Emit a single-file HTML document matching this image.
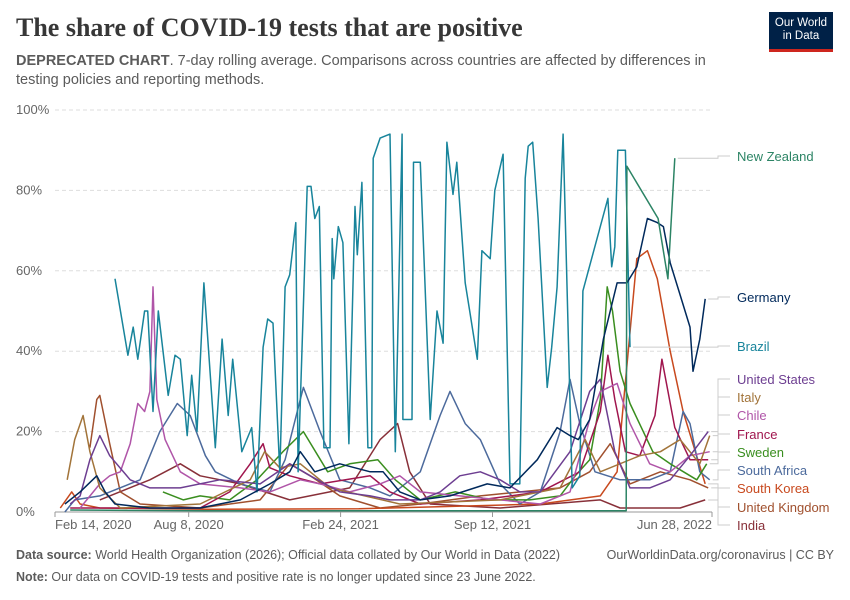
<!DOCTYPE html>
<html><head><meta charset="utf-8">
<style>
body{margin:0;background:#fff;font-family:"Liberation Sans",sans-serif;}
#wrap{position:relative;width:850px;height:600px;overflow:hidden;}
.title{position:absolute;left:16px;top:13px;font-family:"Liberation Serif",serif;font-weight:bold;font-size:26px;color:#373737;}
.sub{position:absolute;left:16px;top:52px;width:720px;font-size:14.5px;line-height:19px;color:#5b5b5b;}
.logo{position:absolute;left:769px;top:12px;width:64px;height:40px;background:#002147;border-bottom:3px solid #ce261e;color:#fff;font-size:11.5px;line-height:13px;text-align:center;padding-top:5px;box-sizing:border-box;}
.foot{position:absolute;left:16px;font-size:12.5px;color:#5b5b5b;}
</style></head><body>
<div id="wrap">
<div class="title">The share of COVID-19 tests that are positive</div>
<div class="sub"><b>DEPRECATED CHART</b>. 7-day rolling average. Comparisons across countries are affected by differences in testing policies and reporting methods.</div>
<div class="logo">Our World<br>in Data</div>
<svg id="chart" width="850" height="600" style="position:absolute;left:0;top:0"></svg>
<div class="foot" style="top:548px"><b>Data source:</b> World Health Organization (2026); Official data collated by Our World in Data (2022)</div>
<div class="foot" style="top:548px;left:auto;right:16px">OurWorldinData.org/coronavirus | CC BY</div>
<div class="foot" style="top:570px"><b>Note:</b> Our data on COVID-19 tests and positive rate is no longer updated since 23 June 2022.</div>
</div>
<script>
const yTicks=[0,20,40,60,80,100];
const xTickDays=[0,176,376,576,865];
const xTickLabels=["Feb 14, 2020","Aug 8, 2020","Feb 24, 2021","Sep 12, 2021","Jun 28, 2022"];
const seriesNames=["New Zealand","Germany","Brazil","United States","Italy","Chile","France","Sweden","South Africa","South Korea","United Kingdom","India"];
const seriesColors=["#2c8465","#00295b","#18849b","#6d3e91","#a2743a","#b055a8","#a0164e","#3a8e1f","#4c6a9c","#c8491e","#a0502e","#883039"];
const labelY=[156,297,346,379,397,415,434,452,470,488,507,525];
const nzDays=[20,200,400,600,752,753,794,807,816];
const nzVals=[0.5,0.3,0.3,0.3,0.3,86,73,58,88];
const deDays=[13,33,55,66,79,125,191,244,283,309,323,342,375,415,432,454,481,520,569,599,635,661,678,689,704,722,740,753,766,780,793,801,810,823,836,840,849,856];
const deVals=[2,5,9,5,2,1,1,3,7,10,15,10,12,10,10,5,3,4,7,6,13,21,19,18,23,43,57,57,61,73,72,71,62,54,46,35,43,53];
const brDays=[79,96,103,109,118,122,129,136,149,158,165,174,180,187,196,211,220,228,234,246,259,266,274,280,287,296,303,309,317,320,332,337,342,348,354,362,365,367,373,379,387,395,398,404,412,417,419,428,441,448,457,458,470,472,481,494,503,511,516,524,529,540,546,556,562,573,579,590,599,612,619,623,629,636,648,654,661,669,681,691,695,728,733,737,741,751,757];
const brVals=[58,39,46,38,50,50,25,50,29,39,38,19,34,20,57,16,43,24,38,15,21,5,41,48,47,10,56,59,72,10,81,81,73,76,16,16,68,58,71,67,17,76,64,82,16,16,88,93,94,15,94,23,23,87,87,23,50,42,92,79,87,57,50,38,65,63,80,89,7,7,83,91,92,73,31,41,56,94,6,9,55,78,61,66,90,90,41];
const usDays=[20,33,46,59,72,99,125,165,217,270,309,336,375,415,441,481,507,533,560,586,612,639,678,704,718,737,757,783,810,836,860];
const usVals=[2,4,13,19,14,8,6,6,8,7,12,9,5,4,3,3,5,9,10,8,5,5,15,30,33,15,6,6,8,14,20];
const itDays=[16,26,37,46,59,86,191,257,276,296,323,362,454,586,665,698,718,770,797,823,849,862];
const itVals=[8,18,24,15,6,1,2,8,15,11,12,6,2,3,6,18,10,14,15,18,12,19];
const clDays=[33,59,72,86,99,109,118,125,129,134,145,165,191,244,283,323,349,388,428,454,481,533,586,639,678,704,718,740,757,783,810,836,862];
const clVals=[1,7,9,10,17,27,25,30,56,28,18,10,7,6,5,8,7,5,7,9,5,4,3,2,5,23,30,32,22,12,10,14,15];
const frDays=[20,59,191,230,257,274,283,309,349,415,441,481,560,639,691,718,728,737,751,770,790,799,816,836,860];
const frVals=[1,1,1,5,12,17,11,9,7,9,5,2,3,5,10,25,39,28,15,14,24,38,21,13,13];
const seDays=[142,169,191,230,266,300,327,359,388,425,448,481,527,573,625,665,685,704,718,727,734,744,757,787,810,845,858];
const seVals=[5,3,4,3,8,15,20,10,12,13,8,3,5,3,3,4,9,13,28,56,50,35,27,15,12,8,12];
const zaDays=[13,26,59,112,138,161,178,198,211,244,283,303,323,327,349,375,415,441,481,507,520,540,560,586,612,639,665,678,691,711,744,783,810,827,836,849,862];
const zaVals=[0,3,4,8,20,27,24,14,10,7,5,13,28,31,20,8,6,4,10,24,30,22,18,7,2,5,20,33,22,10,8,8,10,25,22,10,8];
const krDays=[7,22,33,59,200,400,639,718,740,766,780,793,810,827,856];
const krVals=[1,5,2,1,0.7,0.8,2,4,10,63,65,58,40,25,7];
const ukDays=[46,55,59,72,86,112,191,270,309,336,375,428,481,560,665,704,731,757,797,836,860];
const ukVals=[16,28,29,17,5,2,1,3,12,9,4,1,2,4,6,10,17,7,10,8,6];
const inDays=[59,125,165,191,244,309,388,428,451,467,494,586,718,744,823,856];
const inVals=[3,8,12,9,7,3,6,18,22,10,2,1,3,1,1,3];
const allDays=[nzDays,deDays,brDays,usDays,itDays,clDays,frDays,seDays,zaDays,krDays,ukDays,inDays];
const allVals=[nzVals,deVals,brVals,usVals,itVals,clVals,frVals,seVals,zaVals,krVals,ukVals,inVals];

const X0=55,X1=712,Y0=512,Y1=110,DMAX=865;
const xs=d=>X0+d*(X1-X0)/DMAX;
const ys=v=>Y0-v*(Y0-Y1)/100;
const svg=document.getElementById('chart');
const NS='http://www.w3.org/2000/svg';
function mk(t,a){const e=document.createElementNS(NS,t);for(const k in a)e.setAttribute(k,a[k]);svg.appendChild(e);return e;}
yTicks.forEach(v=>{
  const g=mk('line',{x1:X0,x2:X1,y1:ys(v),y2:ys(v),stroke:v===0?'#999':'#ddd','stroke-dasharray':v===0?'':'4,3'});
  
  
  const t=mk('text',{x:16,y:ys(v)+4,'font-size':13,fill:'#666','font-family':'Liberation Sans'});
  t.textContent=v+'%';
  
  
});
xTickDays.forEach((d,i)=>{
  const tk=mk('line',{x1:xs(d),x2:xs(d),y1:Y0,y2:Y0+5,stroke:'#999'});
  
  
  const anchor=i===0?'start':(i===xTickDays.length-1?'end':'middle');
  const t=mk('text',{x:xs(d),y:Y0+17,'font-size':13,fill:'#666','text-anchor':anchor,'font-family':'Liberation Sans'});
  t.textContent=xTickLabels[i];
  
  
});
for(let s=seriesNames.length-1;s>=0;s--){
  const d=allDays[s],v=allVals[s];
  const pts=d.map((dd,i)=>xs(dd).toFixed(1)+','+ys(v[i]).toFixed(1)).join(' ');
  const p=mk('polyline',{points:pts,fill:'none',stroke:seriesColors[s],'stroke-width':1.5,'stroke-linejoin':'round'});
  
  
  const lx=xs(d[d.length-1]),ly=ys(v[v.length-1]);
  const c=mk('polyline',{points:`${lx+3},${ly} 718,${ly} 718,${labelY[s]} 730,${labelY[s]}`,fill:'none',stroke:'#ccc','stroke-width':1});
  
  
  const t=mk('text',{x:737,y:labelY[s]+5,'font-size':13,fill:seriesColors[s],'font-family':'Liberation Sans'});
  t.textContent=seriesNames[s];
  
  
}
</script>
</body></html>
